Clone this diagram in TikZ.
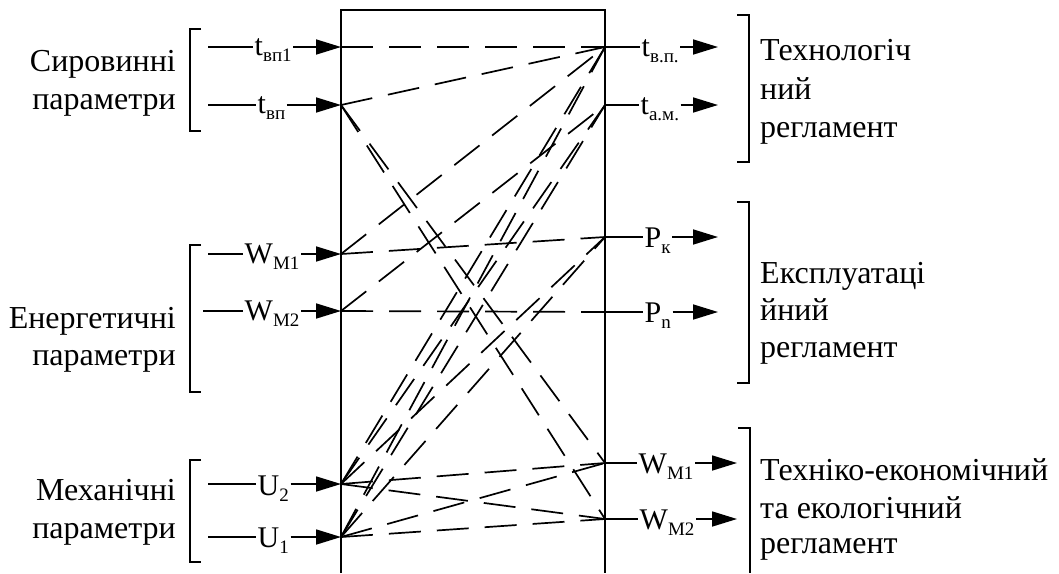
\documentclass[tikz,border=0pt]{standalone}
\usepackage{fontspec}
\setmainfont{Liberation Serif}
\usetikzlibrary{arrows.meta}
\newcommand{\sbs}[1]{\raisebox{-6pt}{\fontsize{19}{19}\selectfont #1}}
\begin{document}
\begin{tikzpicture}[x=1pt,y=-1pt,
  ln/.style={line width=1.7pt},
  conn/.style={line width=1.7pt, dash pattern=on 32pt off 16pt},
  arr/.style={line width=1.7pt, -{Triangle[length=25pt,width=15pt]}},
  lbl/.style={inner sep=0pt, inner xsep=1.5pt, font=\fontsize{30}{36}\selectfont},
  txt/.style={inner sep=0pt, font=\fontsize{32}{38}\selectfont},
]
\useasboundingbox (0,0) rectangle (1059,573);

% box
\draw[ln] (341,573) -- (341,10) -- (605,10) -- (605,573);

% box ports
\coordinate (A1) at (341,47);
\coordinate (A2) at (341,105);
\coordinate (A3) at (341,254);
\coordinate (A4) at (341,311);
\coordinate (A5) at (341,484);
\coordinate (A6) at (341,537);
\coordinate (B1) at (605,47);
\coordinate (B2) at (605,105);
\coordinate (B3) at (605,237);
\coordinate (B4) at (605,312);
\coordinate (B5) at (605,463);
\coordinate (B6) at (605,519);

% input starts
\coordinate (s1) at (208,47);
\coordinate (s2) at (208,105);
\coordinate (s3) at (208,254);
\coordinate (s4) at (203,311);
\coordinate (s5) at (208,484);
\coordinate (s6) at (208,537);

% output ends
\coordinate (o1) at (718,47);
\coordinate (o2) at (718,105);
\coordinate (o3) at (718,237);
\coordinate (o4) at (718,312);
\coordinate (o5) at (737,463);
\coordinate (o6) at (737,519);

% input labels
\node[lbl, anchor=base west] (li1) at (253,55) {t\sbs{вп1}};
\node[lbl, anchor=base west] (li2) at (256,113) {t\sbs{вп}};
\node[lbl, anchor=base west] (li3) at (243,263) {W\sbs{M1}};
\node[lbl, anchor=base west] (li4) at (243,320) {W\sbs{M2}};
\node[lbl, anchor=base west] (li5) at (256,495) {U\sbs{2}};
\node[lbl, anchor=base west] (li6) at (256,547) {U\sbs{1}};

\foreach \i in {1,...,6} {
  \draw[ln] (s\i) -- (li\i.west |- s\i);
  \draw[arr] (li\i.east |- s\i) -- (A\i);
}

% output labels
\node[lbl, anchor=base west] (lo1) at (640,56) {t\sbs{в.п.}};
\node[lbl, anchor=base west] (lo2) at (639,114) {t\sbs{а.м.}};
\node[lbl, anchor=base west] (lo3) at (643,247) {P\sbs{к}};
\node[lbl, anchor=base west] (lo4) at (643,322) {P\sbs{n}};
\node[lbl, anchor=base west] (lo5) at (637,473) {W\sbs{M1}};
\node[lbl, anchor=base west] (lo6) at (638,529) {W\sbs{M2}};

\foreach \i in {1,...,6} {
  \draw[ln] (B\i) -- (lo\i.west |- B\i);
  \draw[arr] (lo\i.east |- B\i) -- (o\i);
}

% dashed connections inside the box
\foreach \a/\b in {1/1, 2/1, 2/5, 2/6, 3/1, 3/3, 4/2, 4/4,
                   5/1, 5/2, 5/3, 5/5, 5/6, 6/1, 6/2, 6/3, 6/5, 6/6} {
  \draw[conn] (A\a) -- (B\b);
}

% brackets
\draw[ln] (201,29) -- (190,29) -- (190,131) -- (201,131);
\draw[ln] (201,245) -- (190,245) -- (190,392) -- (201,392);
\draw[ln] (201,460) -- (190,460) -- (190,562) -- (201,562);
\draw[ln] (737,15) -- (749,15) -- (749,162) -- (737,162);
\draw[ln] (737,202) -- (749,202) -- (749,383) -- (737,383);
\draw[ln] (738,428) -- (750,428) -- (750,573);

% left texts
\node[txt, anchor=base east] (g1a) at (176,71) {Сировинні};
\node[txt, anchor=base east] (g1b) at (176,109) {параметри};
\node[txt, anchor=base east] (g2a) at (176,328) {Енергетичні};
\node[txt, anchor=base east] (g2b) at (176,365) {параметри};
\node[txt, anchor=base east] (g3a) at (176,500) {Механічні};
\node[txt, anchor=base east] (g3b) at (176,538) {параметри};

% right texts
\node[txt, anchor=base west] (r1a) at (760,60) {Технологіч};
\node[txt, anchor=base west] (r1b) at (760,99) {ний};
\node[txt, anchor=base west] (r1c) at (760,137) {регламент};
\node[txt, anchor=base west] (r2a) at (760,283) {Експлуатаці};
\node[txt, anchor=base west] (r2b) at (760,320) {йний};
\node[txt, anchor=base west] (r2c) at (760,357) {регламент};
\node[txt, anchor=base west] (r3a) at (760,480) {Техніко-економічний};
\node[txt, anchor=base west] (r3b) at (760,518) {та екологічний};
\node[txt, anchor=base west] (r3c) at (760,553) {регламент};
\end{tikzpicture}
\end{document}
